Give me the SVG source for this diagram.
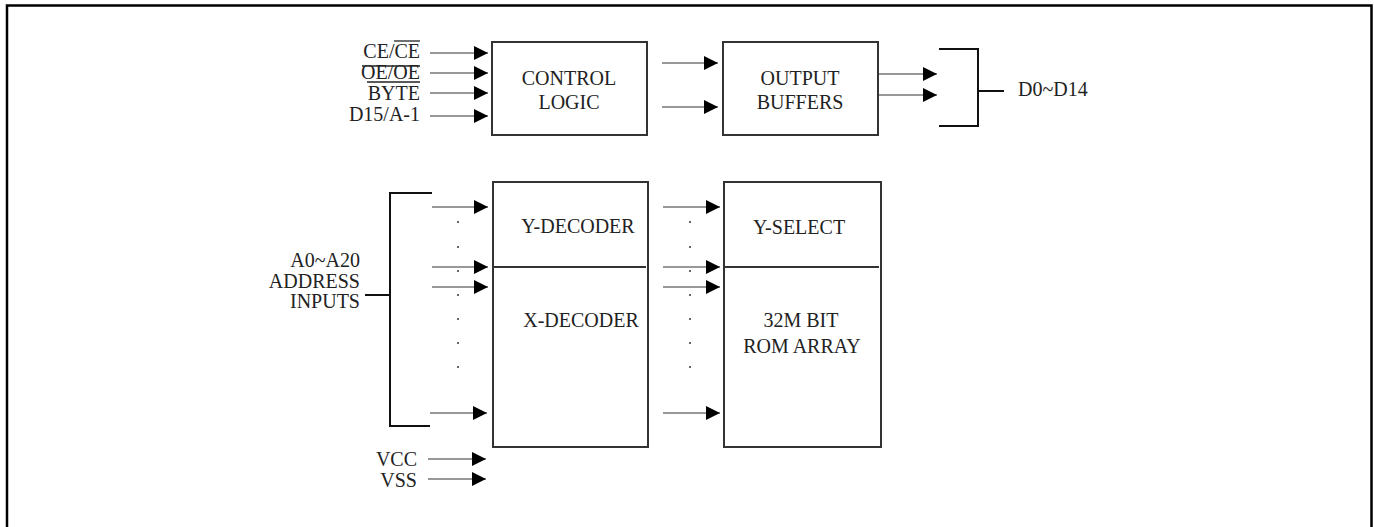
<svg xmlns="http://www.w3.org/2000/svg" width="1374" height="527" viewBox="0 0 1374 527">
  <style>
    .box { fill: #fff; stroke: #333; stroke-width: 2; }
    .div { stroke: #333; stroke-width: 2; }
    .wire { fill: none; stroke: #111; stroke-width: 2; }
    .arr { fill: none; stroke: #333; stroke-width: 1.2; marker-end: url(#head); }
    .lbl { font-family: "Liberation Serif", "Times New Roman", serif; font-size: 20px; fill: #222; }
    .c { text-anchor: middle; }
    .r { text-anchor: end; }
    .ov { stroke: #222; stroke-width: 1.3; }
    .dot { fill: #333; }
  </style>
  <defs>
    <marker id="head" markerUnits="userSpaceOnUse" markerWidth="16" markerHeight="16" refX="14" refY="7" orient="auto">
      <path d="M0,0 L14,7 L0,14 Z" fill="#000"/>
    </marker>
  </defs>

  <rect width="1374" height="527" fill="#fff"/>
  <!-- outer frame -->
  <polyline points="7,528 7,5.5 1371.5,5.5 1371.5,528" fill="none" stroke="#000" stroke-width="2.5"/>

  <!-- signal labels -->
  <g id="control-inputs">
    <text class="lbl r" x="420" y="58">CE/CE</text>
    <line class="ov" x1="394" y1="41" x2="420" y2="41"/>
    <text class="lbl r" x="420" y="79">OE/OE</text>
    <line class="ov" x1="362" y1="66" x2="420" y2="66"/>
    <text class="lbl r" x="420" y="100">BYTE</text>
    <line class="ov" x1="367" y1="82" x2="420" y2="82"/>
    <text class="lbl r" x="420" y="121">D15/A-1</text>
  </g>

  <g id="address-inputs">
    <text class="lbl r" x="360" y="267">A0~A20</text>
    <text class="lbl r" x="360" y="288">ADDRESS</text>
    <text class="lbl r" x="360" y="308">INPUTS</text>
  </g>

  <g id="power-inputs">
    <text class="lbl r" x="417" y="466">VCC</text>
    <text class="lbl r" x="417" y="487">VSS</text>
  </g>

  <g id="data-outputs">
    <text class="lbl" x="1018" y="96">D0~D14</text>
  </g>

  <!-- blocks -->
  <g id="control-logic">
    <rect class="box" x="492" y="42" width="155" height="93"/>
    <text class="lbl c" x="569" y="85">CONTROL</text>
    <text class="lbl c" x="569" y="109">LOGIC</text>
  </g>

  <g id="output-buffers">
    <rect class="box" x="723" y="42" width="155" height="93"/>
    <text class="lbl c" x="800" y="85">OUTPUT</text>
    <text class="lbl c" x="800" y="109">BUFFERS</text>
  </g>

  <g id="decoder">
    <rect class="box" x="493" y="182" width="155" height="265"/>
    <line class="div" x1="493" y1="267" x2="646" y2="267"/>
    <text class="lbl c" x="578" y="233">Y-DECODER</text>
    <text class="lbl c" x="581" y="327">X-DECODER</text>
  </g>

  <g id="rom-array">
    <rect class="box" x="724" y="182" width="157" height="265"/>
    <line class="div" x1="724" y1="267" x2="879" y2="267"/>
    <text class="lbl c" x="799" y="234">Y-SELECT</text>
    <text class="lbl c" x="801" y="327">32M BIT</text>
    <text class="lbl c" x="802" y="353">ROM ARRAY</text>
  </g>

  <!-- connectors -->
  <g id="connectors">
    <line class="arr" x1="430" y1="53" x2="488" y2="53"/>
    <line class="arr" x1="430" y1="73" x2="488" y2="73"/>
    <line class="arr" x1="430" y1="93" x2="488" y2="93"/>
    <line class="arr" x1="430" y1="116" x2="488" y2="116"/>

    <line class="arr" x1="662" y1="63" x2="718" y2="63"/>
    <line class="arr" x1="662" y1="107" x2="718" y2="107"/>

    <line class="arr" x1="879" y1="74" x2="937" y2="74"/>
    <line class="arr" x1="879" y1="95" x2="937" y2="95"/>
    <polyline class="wire" points="939,49 978,49 978,126 939,126"/>
    <line class="wire" x1="978" y1="91" x2="1004" y2="91"/>

    <polyline class="wire" points="432,193 390,193 390,426 430,426"/>
    <line class="wire" x1="365" y1="295" x2="390" y2="295"/>
    <line class="arr" x1="432" y1="207" x2="488" y2="207"/>
    <line class="arr" x1="432" y1="267" x2="488" y2="267"/>
    <line class="arr" x1="432" y1="287" x2="488" y2="287"/>
    <line class="arr" x1="430" y1="413" x2="487" y2="413"/>

    <line class="arr" x1="663" y1="207" x2="720" y2="207"/>
    <line class="arr" x1="663" y1="267" x2="720" y2="267"/>
    <line class="arr" x1="663" y1="287" x2="720" y2="287"/>
    <line class="arr" x1="663" y1="413" x2="720" y2="413"/>

    <line class="arr" x1="428" y1="459" x2="486" y2="459"/>
    <line class="arr" x1="428" y1="479" x2="486" y2="479"/>

    <g class="dot">
      <circle cx="458" cy="222" r="1"/><circle cx="458" cy="247" r="1"/><circle cx="458" cy="271" r="1"/>
      <circle cx="458" cy="295" r="1"/><circle cx="458" cy="319" r="1"/><circle cx="458" cy="343" r="1"/>
      <circle cx="458" cy="367" r="1"/>
      <circle cx="690" cy="222" r="1"/><circle cx="690" cy="247" r="1"/><circle cx="690" cy="271" r="1"/>
      <circle cx="690" cy="295" r="1"/><circle cx="690" cy="319" r="1"/><circle cx="690" cy="343" r="1"/>
      <circle cx="690" cy="367" r="1"/>
    </g>
  </g>
</svg>
